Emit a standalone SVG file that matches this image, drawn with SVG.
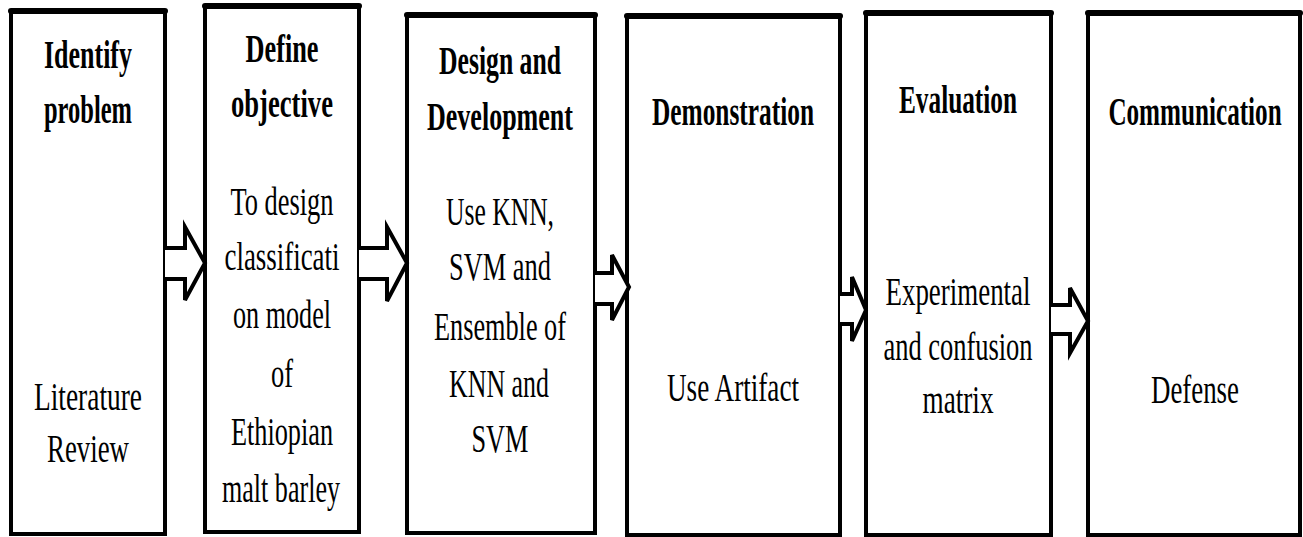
<svg xmlns="http://www.w3.org/2000/svg" width="1303" height="537" viewBox="0 0 1303 537">
<style>
.box{fill:#fff;stroke:#000;stroke-width:4}
.top{stroke:#000;stroke-width:6;stroke-linecap:round}
.t{font-family:"Liberation Serif","Times New Roman",serif;font-size:40px;fill:#000;text-anchor:middle}
.b{font-weight:bold}
.arr{fill:#fff;stroke:#000;stroke-width:4;stroke-linejoin:miter}
</style>
<rect width="1303" height="537" fill="#fff"/>
<g id="n1">
<rect class="box" x="11" y="11" width="154" height="523"/>
<line class="top" x1="11" y1="11" x2="165" y2="11"/>
<text class="t b" x="88" y="68" textLength="88" lengthAdjust="spacingAndGlyphs">Identify</text>
<text class="t b" x="88" y="123" textLength="88" lengthAdjust="spacingAndGlyphs">problem</text>
<text class="t" x="88" y="410" textLength="108" lengthAdjust="spacingAndGlyphs">Literature</text>
<text class="t" x="88" y="462" textLength="82" lengthAdjust="spacingAndGlyphs">Review</text>
</g>
<g id="n2">
<rect class="box" x="205" y="6" width="154" height="526"/>
<line class="top" x1="205" y1="6" x2="359" y2="6"/>
<text class="t b" x="282" y="62" textLength="73" lengthAdjust="spacingAndGlyphs">Define</text>
<text class="t b" x="282" y="117" textLength="102" lengthAdjust="spacingAndGlyphs">objective</text>
<text class="t" x="282" y="215" textLength="103" lengthAdjust="spacingAndGlyphs">To design</text>
<text class="t" x="282" y="270" textLength="115" lengthAdjust="spacingAndGlyphs">classificati</text>
<text class="t" x="282" y="328" textLength="98" lengthAdjust="spacingAndGlyphs">on model</text>
<text class="t" x="282" y="387" textLength="22" lengthAdjust="spacingAndGlyphs">of</text>
<text class="t" x="282" y="445" textLength="102" lengthAdjust="spacingAndGlyphs">Ethiopian</text>
<text class="t" x="281" y="502" textLength="118" lengthAdjust="spacingAndGlyphs">malt barley</text>
</g>
<g id="n3">
<rect class="box" x="407" y="15" width="188" height="518"/>
<line class="top" x1="407" y1="15" x2="595" y2="15"/>
<text class="t b" x="500" y="74" textLength="122" lengthAdjust="spacingAndGlyphs">Design and</text>
<text class="t b" x="500" y="130" textLength="146" lengthAdjust="spacingAndGlyphs">Development</text>
<text class="t" x="500" y="225" textLength="108" lengthAdjust="spacingAndGlyphs">Use KNN,</text>
<text class="t" x="500" y="280" textLength="102" lengthAdjust="spacingAndGlyphs">SVM and</text>
<text class="t" x="500" y="340" textLength="132" lengthAdjust="spacingAndGlyphs">Ensemble of</text>
<text class="t" x="499" y="397" textLength="100" lengthAdjust="spacingAndGlyphs">KNN and</text>
<text class="t" x="500" y="452" textLength="57" lengthAdjust="spacingAndGlyphs">SVM</text>
</g>
<g id="n4">
<rect class="box" x="627" y="16" width="213" height="519"/>
<line class="top" x1="627" y1="16" x2="840" y2="16"/>
<text class="t b" x="733" y="125" textLength="162" lengthAdjust="spacingAndGlyphs">Demonstration</text>
<text class="t" x="733" y="401" textLength="132" lengthAdjust="spacingAndGlyphs">Use Artifact</text>
</g>
<g id="n5">
<rect class="box" x="866" y="13" width="185" height="522"/>
<line class="top" x1="866" y1="13" x2="1051" y2="13"/>
<text class="t b" x="958" y="113" textLength="118" lengthAdjust="spacingAndGlyphs">Evaluation</text>
<text class="t" x="958" y="305" textLength="145" lengthAdjust="spacingAndGlyphs">Experimental</text>
<text class="t" x="958" y="360" textLength="149" lengthAdjust="spacingAndGlyphs">and confusion</text>
<text class="t" x="958" y="413" textLength="71" lengthAdjust="spacingAndGlyphs">matrix</text>
</g>
<g id="n6">
<rect class="box" x="1088" y="13" width="212" height="522"/>
<line class="top" x1="1088" y1="13" x2="1300" y2="13"/>
<text class="t b" transform="translate(1195,125) scale(0.63,1)" x="0" y="0" textLength="275" lengthAdjust="spacingAndGlyphs">Communication</text>
<text class="t" x="1195" y="403" textLength="88" lengthAdjust="spacingAndGlyphs">Defense</text>
</g>
<g id="connectors">
<polyline class="arr" points="165,248 185,248 185,227 205,263 185,300 185,279 165,279"/>
<polyline class="arr" points="359,248 387,248 387,227 407,263 387,301 387,279 359,279"/>
<polyline class="arr" points="595,273 612,273 612,255 629,287 612,320 612,304 595,304"/>
<polyline class="arr" points="840,294 852,294 852,277 866,310 852,341 852,324 840,324"/>
<polyline class="arr" points="1051,305 1070,305 1070,288 1088,321 1070,353 1070,334 1051,334"/>
</g>
</svg>
